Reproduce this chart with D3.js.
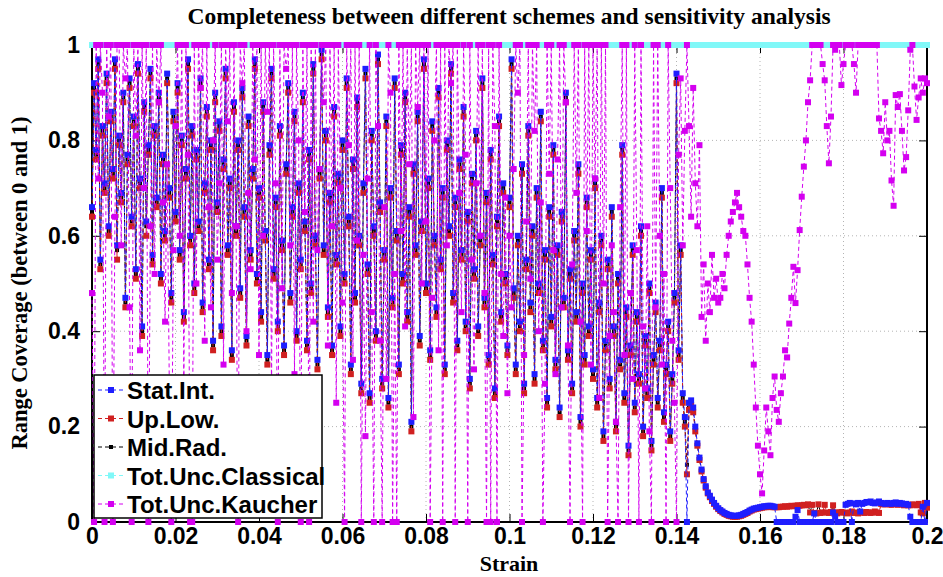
<!DOCTYPE html>
<html>
<head>
<meta charset="utf-8">
<script src="https://cdn.jsdelivr.net/npm/d3@7"></script>
<style>
  body { margin: 0; background: #fff; }
  .tick text { font-family: "Liberation Sans", Arial, sans-serif; font-weight: bold; font-size: 23px; fill: #000; }
</style>
</head>
<body>
<svg width="943" height="577"></svg>
<script>
// strain sampled every 0.0005 from 0 to 0.2
const strainStep = 0.0005;
const xTicks = [0, 0.02, 0.04, 0.06, 0.08, 0.1, 0.12, 0.14, 0.16, 0.18, 0.2];
const yTicks = [0, 0.2, 0.4, 0.6, 0.8, 1];
const seriesNames = ["Stat.Int.", "Up.Low.", "Mid.Rad.", "Tot.Unc.Classical", "Tot.Unc.Kaucher"];

const statInt = [
  0.66,0.92,0.78,0.97,0.55,0.83,0.71,0.94,0.62,0.86,
  0.74,0.97,0.58,0.81,0.69,0.9,0.47,0.77,0.93,0.64,
  0.85,0.53,0.96,0.72,0.41,0.88,0.63,0.79,0.95,0.56,
  0.83,0.68,0.9,0.52,0.77,0.61,0.94,0.7,0.48,0.86,
  0.65,0.92,0.57,0.81,0.44,0.74,0.97,0.6,0.83,0.5,
  0.78,0.63,0.93,0.46,0.71,0.87,0.55,0.8,0.38,0.9,
  0.67,0.84,0.41,0.76,0.95,0.58,0.72,0.36,0.88,0.62,
  0.8,0.49,0.91,0.66,0.39,0.85,0.57,0.74,0.97,0.52,
  0.7,0.44,0.88,0.61,0.35,0.79,0.95,0.53,0.68,0.42,
  0.83,0.59,0.37,0.75,0.92,0.48,0.66,0.86,0.4,0.71,
  0.55,0.9,0.63,0.38,0.78,0.5,0.96,0.6,0.34,0.74,
  0.99,0.58,0.82,0.45,0.69,0.37,0.87,0.56,0.73,0.41,
  0.8,0.52,0.93,0.64,0.33,0.76,0.48,0.89,0.6,0.29,
  0.71,0.95,0.54,0.27,0.82,0.62,0.4,0.98,0.67,0.3,
  0.57,0.85,0.26,0.7,0.47,0.93,0.61,0.33,0.79,0.52,
  0.9,0.44,0.66,0.21,0.75,0.58,0.86,0.39,0.63,0.97,
  0.5,0.72,0.36,0.84,0.6,0.45,0.91,0.55,0.7,0.33,
  0.8,0.62,0.96,0.48,0.68,0.38,0.76,0.57,0.87,0.42,
  0.65,0.3,0.73,0.53,0.82,0.41,0.6,0.93,0.47,0.69,
  0.35,0.78,0.56,0.28,0.64,0.85,0.44,0.71,0.52,0.37,
  0.68,0.97,0.49,0.33,0.6,0.42,0.75,0.29,0.55,0.83,
  0.46,0.62,0.31,0.7,0.5,0.86,0.38,0.57,0.26,0.66,
  0.43,0.79,0.34,0.58,0.24,0.65,0.47,0.9,0.36,0.53,
  0.29,0.61,0.44,0.75,0.22,0.5,0.35,0.68,0.41,0.57,
  0.32,0.72,0.26,0.46,0.6,0.19,0.38,0.55,0.3,0.66,
  0.41,0.21,0.52,0.34,0.79,0.27,0.45,0.16,0.37,0.58,
  0.25,0.44,0.31,0.62,0.2,0.39,0.28,0.5,0.17,0.35,
  0.46,0.26,0.38,0.7,0.23,0.33,0.42,0.19,0.31,0.48,
  0.94,0.36,0.58,0.27,0.22,0,0.25,0.255,0.24,0.2,
  0.165,0.135,0.11,0.09,0.075,0.062,0.055,0.047,0.04,0.034,
  0.029,0.025,0.022,0.019,0.017,0.015,0.014,0.013,0.013,0.013,
  0.014,0.015,0.017,0.019,0.021,0.024,0.026,0.028,0.029,0.03,
  0.031,0.032,0.033,0.033,0.034,0.034,0.033,0.032,0,0,
  0,0,0,0,0,0,0,0.011,0.025,0,
  0,0,0,0,0,0,0.018,0,0,0,
  0,0,0,0,0,0.02,0.012,0,0,0,
  0,0.036,0.038,0.04,0,0.039,0.037,0.04,0.022,0.038,
  0.04,0.042,0.041,0.043,0.04,0.039,0.041,0.043,0.04,0.039,
  0.038,0.04,0.039,0.038,0.04,0.041,0.038,0.04,0.039,0.037,
  0.038,0.036,0.011,0,0,0,0,0,0.032,0,
  0.04
];

const upLow = [
  0.64,0.9,0.76,0.95,0.53,0.81,0.69,0.92,0.6,0.84,
  0.72,0.95,0.55,0.79,0.67,0.88,0.45,0.75,0.91,0.62,
  0.83,0.51,0.94,0.7,0.39,0.86,0.6,0.77,0.93,0.54,
  0.81,0.66,0.88,0.5,0.75,0.59,0.92,0.68,0.46,0.84,
  0.63,0.9,0.55,0.79,0.42,0.72,0.95,0.58,0.81,0.48,
  0.76,0.61,0.91,0.44,0.69,0.85,0.53,0.78,0.36,0.88,
  0.65,0.82,0.39,0.74,0.93,0.56,0.7,0.34,0.86,0.6,
  0.78,0.47,0.89,0.64,0.37,0.83,0.55,0.72,0.95,0.5,
  0.68,0.42,0.86,0.59,0.33,0.77,0.93,0.51,0.66,0.4,
  0.81,0.57,0.35,0.73,0.9,0.46,0.64,0.84,0.38,0.69,
  0.53,0.88,0.61,0.36,0.76,0.48,0.94,0.58,0.32,0.72,
  0.97,0.56,0.8,0.43,0.67,0.35,0.85,0.54,0.71,0.39,
  0.78,0.5,0.91,0.62,0.31,0.74,0.46,0.87,0.58,0.27,
  0.69,0.93,0.52,0.25,0.8,0.6,0.38,0.96,0.65,0.28,
  0.55,0.83,0.24,0.68,0.45,0.91,0.59,0.31,0.77,0.5,
  0.88,0.42,0.64,0.19,0.73,0.56,0.84,0.37,0.61,0.95,
  0.48,0.7,0.34,0.82,0.58,0.43,0.89,0.53,0.68,0.31,
  0.78,0.6,0.94,0.46,0.66,0.36,0.74,0.55,0.85,0.4,
  0.63,0.28,0.71,0.51,0.8,0.39,0.58,0.91,0.45,0.67,
  0.33,0.76,0.54,0.26,0.62,0.83,0.42,0.69,0.5,0.35,
  0.66,0.95,0.47,0.31,0.58,0.4,0.73,0.27,0.53,0.81,
  0.44,0.6,0.29,0.68,0.48,0.84,0.36,0.55,0.24,0.64,
  0.41,0.77,0.32,0.56,0.22,0.63,0.45,0.88,0.34,0.51,
  0.27,0.59,0.42,0.73,0.2,0.48,0.33,0.66,0.39,0.55,
  0.3,0.7,0.24,0.44,0.58,0.17,0.36,0.53,0.28,0.64,
  0.39,0.19,0.5,0.32,0.77,0.25,0.43,0.14,0.35,0.56,
  0.23,0.42,0.29,0.6,0.18,0.37,0.26,0.48,0.15,0.33,
  0.44,0.24,0.36,0.68,0.21,0.31,0.4,0.17,0.29,0.46,
  0.92,0.34,0.56,0.25,0.2,0.1,0.235,0.245,0.23,0.19,
  0.16,0.13,0.106,0.087,0.072,0.06,0.052,0.044,0.038,0.032,
  0.027,0.023,0.02,0.017,0.015,0.013,0.012,0.011,0.011,0.011,
  0.012,0.013,0.015,0.017,0.019,0.022,0.024,0.026,0.027,0.028,
  0.029,0.03,0.031,0.031,0.032,0.032,0.031,0.031,0.031,0.031,
  0.032,0.032,0.033,0.032,0.033,0.034,0.033,0.034,0.035,0.034,
  0.035,0.036,0.035,0.037,0.02,0.036,0.019,0.018,0.037,0.019,
  0.02,0.036,0.02,0.019,0.021,0.035,0.02,0.018,0.02,0.021,
  0.02,0.019,0.018,0.02,0.022,0.019,0.02,0.018,0.021,0.02,
  0.019,0.021,0.02,0.019,0.02,0.022,0.02,0.019,0.038,0.037,
  0.037,0.038,0.037,0.036,0.038,0.039,0.036,0.038,0.037,0.035,
  0.036,0.035,0.035,0.037,0.036,0.035,0.038,0.02,0.018,0.04,
  0.03
];

const midRad = [
  0.65,0.91,0.77,0.96,0.54,0.82,0.7,0.93,0.61,0.85,
  0.73,0.96,0.57,0.8,0.68,0.89,0.46,0.76,0.92,0.63,
  0.84,0.52,0.95,0.71,0.4,0.87,0.62,0.78,0.94,0.55,
  0.82,0.67,0.89,0.51,0.76,0.6,0.93,0.69,0.47,0.85,
  0.64,0.91,0.56,0.8,0.43,0.73,0.96,0.59,0.82,0.49,
  0.77,0.62,0.92,0.45,0.7,0.86,0.54,0.79,0.37,0.89,
  0.66,0.83,0.4,0.75,0.94,0.57,0.71,0.35,0.87,0.61,
  0.79,0.48,0.9,0.65,0.38,0.84,0.56,0.73,0.96,0.51,
  0.69,0.43,0.87,0.6,0.34,0.78,0.94,0.52,0.67,0.41,
  0.82,0.58,0.36,0.74,0.91,0.47,0.65,0.85,0.39,0.7,
  0.54,0.89,0.62,0.37,0.77,0.49,0.95,0.59,0.33,0.73,
  0.98,0.57,0.81,0.44,0.68,0.36,0.86,0.55,0.72,0.4,
  0.79,0.51,0.92,0.63,0.32,0.75,0.47,0.88,0.59,0.28,
  0.7,0.94,0.53,0.26,0.81,0.61,0.39,0.97,0.66,0.29,
  0.56,0.84,0.25,0.69,0.46,0.92,0.6,0.32,0.78,0.51,
  0.89,0.43,0.65,0.2,0.74,0.57,0.85,0.38,0.62,0.96,
  0.49,0.71,0.35,0.83,0.59,0.44,0.9,0.54,0.69,0.32,
  0.79,0.61,0.95,0.47,0.67,0.37,0.75,0.56,0.86,0.41,
  0.64,0.29,0.72,0.52,0.81,0.4,0.59,0.92,0.46,0.68,
  0.34,0.77,0.55,0.27,0.63,0.84,0.43,0.7,0.51,0.36,
  0.67,0.96,0.48,0.32,0.59,0.41,0.74,0.28,0.54,0.82,
  0.45,0.61,0.3,0.69,0.49,0.85,0.37,0.56,0.25,0.65,
  0.42,0.78,0.33,0.57,0.23,0.64,0.46,0.89,0.35,0.52,
  0.28,0.6,0.43,0.74,0.21,0.49,0.34,0.67,0.4,0.56,
  0.31,0.71,0.25,0.45,0.59,0.18,0.37,0.54,0.29,0.65,
  0.4,0.2,0.51,0.33,0.78,0.26,0.44,0.15,0.36,0.57,
  0.24,0.43,0.3,0.61,0.19,0.38,0.27,0.49,0.16,0.34,
  0.45,0.25,0.37,0.69,0.22,0.32,0.41,0.18,0.3,0.47,
  0.93,0.35,0.57,0.26,0.21,0.12,0.24,0.25,0.235,0.195,
  0.162,0.132,0.108,0.088,0.073,0.061,0.053,0.045,0.039,0.033,
  0.028,0.024,0.021,0.018,0.016,0.014,0.013,0.012,0.012,0.012,
  0.013,0.014,0.016,0.018,0.02,0.023,0.025,0.027,0.028,0.029,
  0.03,0.031,0.032,0.032,0.033,0.033,0.032,0.031,0.031,0.031,
  0.032,0.032,0.033,0.032,0.033,0.034,0.033,0.034,0.035,0.034,
  0.035,0.036,0.035,0.036,0.021,0.036,0.02,0.019,0.036,0.02,
  0.021,0.036,0.02,0.02,0.021,0.034,0.021,0.019,0.02,0.021,
  0.02,0.02,0.019,0.02,0.021,0.02,0.02,0.019,0.021,0.02,
  0.02,0.021,0.02,0.02,0.02,0.021,0.02,0.02,0.037,0.037,
  0.037,0.039,0.038,0.037,0.039,0.04,0.037,0.039,0.038,0.036,
  0.036,0.035,0.035,0.036,0.036,0.035,0.037,0.021,0.019,0.039,
  0.032
];

const totUncClassical = [
  1,1,1,1,1,1,1,1,1,1,1,1,1,1,1,1,1,1,1,1,
  1,1,1,1,1,1,1,1,1,1,1,1,1,1,1,1,1,1,1,1,
  1,1,1,1,1,1,1,1,1,1,1,1,1,1,1,1,1,1,1,1,
  1,1,1,1,1,1,1,1,1,1,1,1,1,1,1,1,1,1,1,1,
  1,1,1,1,1,1,1,1,1,1,1,1,1,1,1,1,1,1,1,1,
  1,1,1,1,1,1,1,1,1,1,1,1,1,1,1,1,1,1,1,1,
  1,1,1,1,1,1,1,1,1,1,1,1,1,1,1,1,1,1,1,1,
  1,1,1,1,1,1,1,1,1,1,1,1,1,1,1,1,1,1,1,1,
  1,1,1,1,1,1,1,1,1,1,1,1,1,1,1,1,1,1,1,1,
  1,1,1,1,1,1,1,1,1,1,1,1,1,1,1,1,1,1,1,1,
  1,1,1,1,1,1,1,1,1,1,1,1,1,1,1,1,1,1,1,1,
  1,1,1,1,1,1,1,1,1,1,1,1,1,1,1,1,1,1,1,1,
  1,1,1,1,1,1,1,1,1,1,1,1,1,1,1,1,1,1,1,1,
  1,1,1,1,1,1,1,1,1,1,1,1,1,1,1,1,1,1,1,1,
  1,1,1,1,1,1,1,1,1,1,1,1,1,1,1,1,1,1,1,1,
  1,1,1,1,1,1,1,1,1,1,1,1,1,1,1,1,1,1,1,1,
  1,1,1,1,1,1,1,1,1,1,1,1,1,1,1,1,1,1,1,1,
  1,1,1,1,1,1,1,1,1,1,1,1,1,1,1,1,1,1,1,1,
  1,1,1,1,1,1,1,1,1,1,1,1,1,1,1,1,1,1,1,1,
  1,1,1,1,1,1,1,1,1,1,1,1,1,1,1,1,1,1,1,1,
  1
];

const totUncKaucher = [
  0.48,0,1,0.72,1,0.9,0,1,0.85,1,
  0,0.64,1,1,0.58,1,0.93,1,0.45,0,
  1,0.81,1,0.36,1,0.7,1,0,0.62,1,
  0.52,1,0.88,1,0.67,0.42,0.75,0.3,0,0.57,
  0.83,1,0.6,1,0.29,1,0.77,0,0,1,
  0.5,1,0.91,1,0.38,1,0.66,0.45,0.8,1,
  0.55,0.71,1,0.33,1,0.84,1,0.48,1,0.62,
  0,1,0.92,1,0.4,0.69,0.53,1,0.76,1,
  0.35,1,0.6,1,0.86,1,0.27,1,0.71,0,
  1,0.49,1,0.95,1,0.58,1,0.31,1,0.8,
  0,1,0.65,1,0,1,0.42,1,0.57,0.74,
  1,0.88,1,0.37,1,0.62,1,0.25,1,0.7,
  0.46,0,1,0.79,1,0.34,1,0.59,1,0,
  0.56,0.18,0.72,1,0.44,0,1,0.83,0.38,0,
  0.66,0.3,1,0.9,0,0.52,0,1,0.61,1,
  0.41,1,0.75,1,0.22,1,0.87,1,0.5,1,
  0.63,1,0,0.47,0.8,1,0.36,1,0,1,
  0.58,1,0.92,1,0,1,0.69,0.44,1,0.77,
  0,1,0.55,0.32,0.71,1,0.6,1,0.48,0,
  1,0,1,0.83,0,1,0.52,0.39,0.68,0.27,
  0.6,0.45,0.74,1,0.9,1,0,0.35,0.63,1,
  0.51,1,0.82,1,0.4,0.67,0,0.29,1,0.73,
  1,0.57,0.31,0.76,1,0.45,1,0.88,0.37,0,
  0.54,1,0.69,1,0.42,0,1,0.61,1,0.33,
  1,0.72,1,0.26,1,0.5,1,0,0.39,0.58,
  0.44,0.21,0,0.66,1,0.35,1,0,0.48,0.3,
  1,0.57,0,1,0.41,0.28,0.62,0.19,0,1,
  0.45,1,0.6,0.33,0.52,0,1,0.7,0.38,0.25,
  0,0.77,0.93,0.58,0.82,1,0.83,0.64,0.91,0.71,
  0.62,0.79,0.43,0.54,0.38,0.5,0.44,0.56,0.47,0.51,
  0.46,0.47,0.52,0.49,0.56,0.6,0.63,0.65,0.67,0.69,
  0.66,0.64,0.61,0.6,0.54,0.47,0.42,0.33,0.24,0.16,
  0.1,0.06,0.15,0.24,0.19,0.14,0.26,0.305,0.235,0.21,
  0.27,0.305,0.36,0.345,0.416,0.47,0.535,0.459,0.528,0.612,
  0.682,0.745,0.8,0.88,0.926,1,1,1,1,1,
  0.96,0.926,0.83,0.752,0.85,1,0.99,1,1,0.916,
  0.96,1,1,1,1,0.96,0.9,1,1,1,
  1,1,1,1,1,1,1,0.846,0.82,0.773,
  0.88,0.8,0.82,0.716,0.663,0.895,0.87,0.897,0.82,0.737,
  0.765,0.863,0.99,1,0.913,0.843,0.89,0.93,0.9,0.93,
  0.92
];

const svg = d3.select("svg");
const x = d3.scaleLinear().domain([0, 0.2]).range([92, 927]);
const y = d3.scaleLinear().domain([0, 1]).range([522, 45]);
const strainAt = i => i * strainStep;

const series = [
  { name: seriesNames[0], values: statInt, color: "#1e1eff", size: 6 },
  { name: seriesNames[1], values: upLow, color: "#d02020", size: 6 },
  { name: seriesNames[2], values: midRad, color: "#000000", size: 4 },
  { name: seriesNames[3], values: totUncClassical, color: "#80f8f8", size: 6 },
  { name: seriesNames[4], values: totUncKaucher, color: "#d400f0", size: 6 }
];
// drawing order: black under red under blue, then classical, kaucher on top
const drawOrder = [series[2], series[1], series[0], series[3], series[4]];

// grid
const grid = svg.append("g").attr("stroke", "#b4b4b4").attr("stroke-dasharray", "1,3");
grid.selectAll("line.vx").data(xTicks.slice(1, -1)).join("line")
  .attr("x1", d => x(d)).attr("x2", d => x(d)).attr("y1", y(0)).attr("y2", y(1));
grid.selectAll("line.hy").data(yTicks.slice(1, -1)).join("line")
  .attr("x1", x(0)).attr("x2", x(0.2)).attr("y1", d => y(d)).attr("y2", d => y(d));

// axes with inward ticks
const fmt = d => String(+d.toFixed(2));
svg.append("g").attr("transform", `translate(0,${y(0)})`)
  .call(d3.axisBottom(x).tickValues(xTicks).tickSize(-8).tickPadding(6).tickFormat(fmt));
svg.append("g").attr("transform", `translate(${x(0)},0)`)
  .call(d3.axisLeft(y).tickValues(yTicks).tickSize(-8).tickPadding(12).tickFormat(fmt));
svg.append("g").attr("transform", `translate(0,${y(1)})`)
  .call(d3.axisTop(x).tickValues(xTicks).tickSize(-8).tickFormat(""));
svg.append("g").attr("transform", `translate(${x(0.2)},0)`)
  .call(d3.axisRight(y).tickValues(yTicks).tickSize(-8).tickFormat(""));
svg.selectAll(".domain").remove();
svg.selectAll(".tick line").attr("stroke", "#000").attr("stroke-width", 1);

svg.append("rect")
  .attr("x", x(0)).attr("y", y(1))
  .attr("width", x(0.2) - x(0)).attr("height", y(0) - y(1))
  .attr("fill", "none").attr("stroke", "#000").attr("stroke-width", 2);

// series
const line = d3.line().x((d, i) => x(strainAt(i))).y(d => y(d));
drawOrder.forEach(s => {
  const g = svg.append("g");
  g.append("path")
    .attr("d", line(s.values))
    .attr("fill", "none")
    .attr("stroke", s.color)
    .attr("stroke-width", 1)
    .attr("stroke-dasharray", "4,3");
  g.selectAll("rect").data(s.values).join("rect")
    .attr("x", (d, i) => x(strainAt(i)) - s.size / 2)
    .attr("y", d => y(d) - s.size / 2)
    .attr("width", s.size).attr("height", s.size)
    .attr("fill", s.color);
});

// titles
const serif = "'Liberation Serif', 'Times New Roman', serif";
svg.append("text")
  .attr("x", 509).attr("y", 24)
  .attr("text-anchor", "middle")
  .style("font-family", serif)
  .style("font-weight", "bold").style("font-size", "23.5px")
  .text("Completeness between different schemes and sensitivity analysis");
svg.append("text")
  .attr("x", 509).attr("y", 571)
  .attr("text-anchor", "middle")
  .style("font-family", serif)
  .style("font-weight", "bold").style("font-size", "22px")
  .text("Strain");
svg.append("text")
  .attr("transform", "translate(27,283) rotate(-90)")
  .attr("text-anchor", "middle")
  .style("font-family", serif)
  .style("font-weight", "bold").style("font-size", "22.5px")
  .text("Range Coverage (between 0 and 1)");

// legend
const legend = svg.append("g").attr("transform", "translate(94,375)");
legend.append("rect")
  .attr("width", 228).attr("height", 143)
  .attr("fill", "#fff").attr("stroke", "#000").attr("stroke-width", 1.5);
const rows = legend.selectAll("g.row").data(series).join("g")
  .attr("transform", (d, i) => `translate(0,${15 + i * 28.5})`);
rows.append("line")
  .attr("x1", 4).attr("x2", 30).attr("y1", 0).attr("y2", 0)
  .attr("stroke", d => d.color).attr("stroke-width", 1).attr("stroke-dasharray", "4,3");
rows.append("rect")
  .attr("x", d => 17 - d.size / 2).attr("y", d => -d.size / 2)
  .attr("width", d => d.size).attr("height", d => d.size)
  .attr("fill", d => d.color);
rows.append("text")
  .attr("x", 33).attr("y", 9)
  .style("font-family", "'Liberation Sans', Arial, sans-serif")
  .style("font-weight", "bold").style("font-size", "24px")
  .text(d => d.name);
</script>
</body>
</html>
